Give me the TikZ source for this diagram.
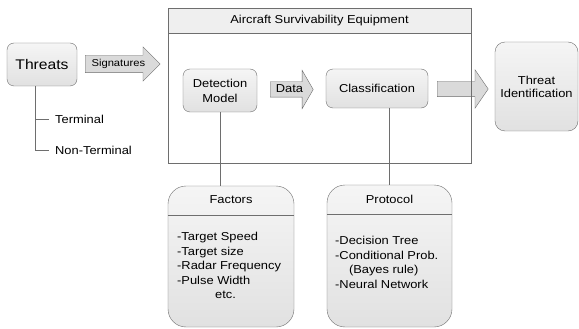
\documentclass[tikz,border=0pt]{standalone}
\usepackage{fontspec}
\setmainfont{Liberation Sans}[FakeStretch=1.12]
\usetikzlibrary{shapes.arrows}
\definecolor{edgegray}{HTML}{6E6E6E}
\definecolor{boxtop}{HTML}{F5F5F5}
\definecolor{boxbot}{HTML}{E1E1E1}
\definecolor{bandgray}{HTML}{EFEFEF}
\definecolor{arrowgray}{HTML}{DADADA}
\begin{document}
\begin{tikzpicture}[x=1pt,y=-1pt,
  every node/.style={font=\fontsize{11.5}{14.5}\selectfont},
  box/.style={draw=edgegray,top color=boxtop,bottom color=boxbot,rounded corners=7pt,align=center,inner sep=0pt},
  fat/.style={single arrow,draw=edgegray,fill=arrowgray,anchor=tail,inner xsep=2pt,
    text height=8pt,text depth=2.5pt,minimum width=0pt},
  line/.style={draw=edgegray,line width=0.6pt},
  leaf/.style={anchor=west,inner xsep=6pt,inner ysep=1pt}]
\useasboundingbox (0,0) rectangle (579,329);
\fill[white] (0,0) rectangle (579,329);
\node[box,minimum width=70pt,minimum height=43pt,font=\fontsize{14}{16}\selectfont] (thr) at (42,64.5) {Threats};
\node[leaf] (term) at (49,119) {Terminal};
\node[leaf] (nterm) at (49,150) {Non-Terminal};
\draw[line] ([xshift=-7pt]thr.south) |- (nterm.west);
\draw[line] (term.west) -| ([xshift=-7pt]thr.south);
\node[fat,minimum height=75pt,inner ysep=3.25pt,single arrow head extend=8.5pt,single arrow tip angle=90,
  font=\fontsize{10}{12}\selectfont] (sig) at (85,64) {Signatures};
\node[fat,minimum height=51pt,inner ysep=2.25pt,single arrow head extend=11.5pt,single arrow tip angle=111] (out) at (437,89) {};
\fill[bandgray] (168,8) rectangle (471,33);
\node (asetitle) at (319.5,20.5) {Aircraft Survivability Equipment};
\draw[line] (168,8) rectangle (471,163);
\draw[line] (168,33) -- (471,33);
\node[box,minimum width=74pt,minimum height=43pt,font=\fontsize{11.5}{15}\selectfont] (det) at (220,90.5) {Detection\\Model};
\node[fat,minimum height=43pt,inner ysep=2.25pt,single arrow head extend=11.5pt,single arrow tip angle=120] (data) at (270,89.5) {Data};
\node[box,minimum width=102pt,minimum height=39pt] (cls) at (377,88.5) {Classification};
\node[box,minimum width=83pt,minimum height=89pt,rounded corners=10pt,font=\fontsize{11.5}{13}\selectfont] (tid) at (536.5,86.5) {Threat\\Identification};
\node[box,minimum width=126pt,minimum height=141pt,rounded corners=18pt] (fac) at (231,256.5) {};
\node (fachead) at (231,200) {Factors};
\draw[line] (fac.west |- 0,215) -- (fac.east |- 0,215);
\node[anchor=north west,align=left,inner sep=0pt] (faclist) at (177,232) {-Target Speed\\-Target size\\-Radar Frequency\\-Pulse Width\\\hspace*{3.3em}etc.};
\node[box,minimum width=125pt,minimum height=142pt,rounded corners=18pt] (pro) at (389.5,256) {};
\node (prohead) at (389.5,199.5) {Protocol};
\draw[line] (pro.west |- 0,214) -- (pro.east |- 0,214);
\node[anchor=north west,align=left,inner sep=0pt] (prolist) at (335,236) {-Decision Tree\\-Conditional Prob.\\\hspace*{1.2em}(Bayes rule)\\-Neural Network};
\draw[line] (det.south) -- (det.south |- fac.north);
\draw[line] (pro.north |- cls.south) -- (pro.north);
\end{tikzpicture}
\end{document}
